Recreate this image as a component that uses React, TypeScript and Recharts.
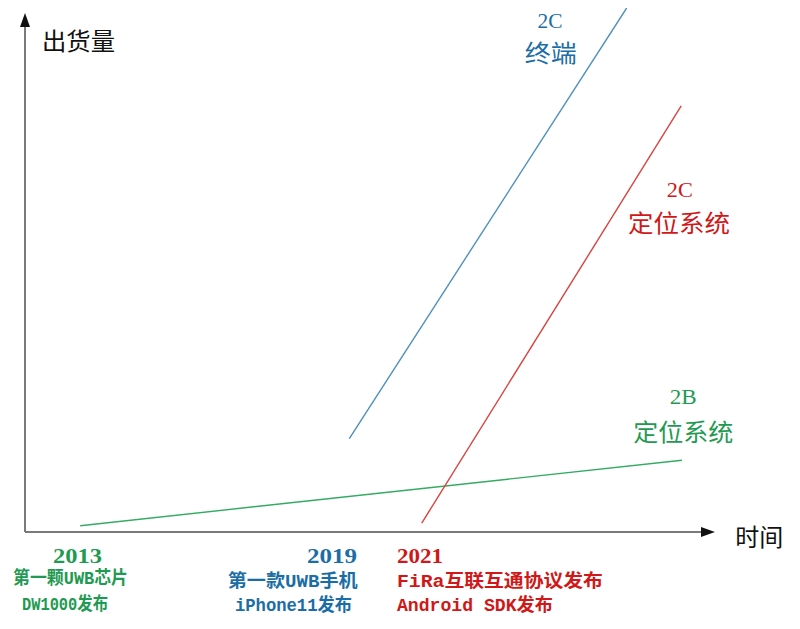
import React from "react";
import { ComposedChart, Line, XAxis, YAxis, ReferenceLine, ReferenceDot } from "recharts";

// ---- data (schematic: time 0..100, shipments 0..100) ----
const green2B = [
  { t: 8.0, v: 1.2 },
  { t: 95.2, v: 13.7 },
];
const blue2C = [
  { t: 47.0, v: 17.8 },
  { t: 87.2, v: 100 },
];
const red2C = [
  { t: 57.5, v: 1.7 },
  { t: 95.1, v: 81.3 },
];

const yAxisTitle = "出货量";
const xAxisTitle = "时间";
const seriesNames = { blue: ["2C", "终端"], red: ["2C", "定位系统"], green: ["2B", "定位系统"] };
const years = ["2013", "2019", "2021"];
const milestoneLine1 = ["第一颗UWB芯片", "第一款UWB手机", "FiRa互联互通协议发布"];
const milestoneLine2 = ["DW1000发布", "iPhone11发布", "Android SDK发布"];

const C = {
  blueText: "#1b6ea5",
  blueLine: "#4f8fbf",
  redText: "#d01818",
  redLine: "#d8433f",
  greenText: "#1f9a52",
  greenLine: "#33ab62",
  axis: "#7a7a7a",
};

const CJK = "'Noto Sans CJK SC', sans-serif";
const MIX = "'Liberation Mono', 'Noto Sans CJK SC', monospace";
const SERIF = "'Liberation Serif', 'Noto Sans CJK SC', serif";

type LabelOpts = {
  text: string;
  color: string;
  size: number;
  len: number;
  anchor?: "start" | "middle" | "end";
  weight?: number | string;
  family?: string;
};

const textShape = (o: LabelOpts) => (p: any) => (
  <text
    x={p.cx}
    y={p.cy}
    fill={o.color}
    fontSize={o.size}
    fontFamily={o.family || CJK}
    fontWeight={o.weight ?? "bold"}
    textAnchor={o.anchor || "middle"}
    textLength={o.len}
    lengthAdjust="spacingAndGlyphs"
  >
    {o.text}
  </text>
);

const arrowUp = (p: any) => (
  <path d={`M${p.cx},${p.cy} L${p.cx - 5},${p.cy + 14} L${p.cx + 5},${p.cy + 14} Z`} fill="#111" />
);
const arrowRight = (p: any) => (
  <path d={`M${p.cx},${p.cy} L${p.cx - 14},${p.cy - 5} L${p.cx - 14},${p.cy + 5} Z`} fill="#111" />
);

const labels: { x: number; y: number; o: LabelOpts }[] = [
  { x: 7.75, y: 92.0, o: { text: yAxisTitle, color: "#111", size: 24, len: 73, weight: "normal" } },
  { x: 106.4, y: -2.7, o: { text: xAxisTitle, color: "#111", size: 24, len: 48, weight: "normal" } },
  { x: 76.1, y: 96.2, o: { text: seriesNames.blue[0], color: C.blueText, size: 22, len: 25, family: SERIF, weight: "normal" } },
  { x: 76.2, y: 89.7, o: { text: seriesNames.blue[1], color: C.blueText, size: 24, len: 52, weight: "normal" } },
  { x: 94.9, y: 63.9, o: { text: seriesNames.red[0], color: C.redText, size: 22, len: 26, family: SERIF, weight: "normal" } },
  { x: 94.8, y: 57.2, o: { text: seriesNames.red[1], color: C.redText, size: 24, len: 102, weight: "normal" } },
  { x: 95.4, y: 24.4, o: { text: seriesNames.green[0], color: C.greenText, size: 22, len: 27, family: SERIF, weight: "normal" } },
  { x: 95.4, y: 17.4, o: { text: seriesNames.green[1], color: C.greenText, size: 24, len: 100, weight: "normal" } },
  // green milestone
  { x: 7.6, y: -5.9, o: { text: years[0], color: C.greenText, size: 20, len: 49, family: SERIF } },
  { x: 6.6, y: -9.9, o: { text: milestoneLine1[0], color: C.greenText, size: 18, len: 115, family: MIX } },
  { x: 5.8, y: -14.9, o: { text: milestoneLine2[0], color: C.greenText, size: 18, len: 86, family: MIX } },
  // blue milestone
  { x: 44.5, y: -5.9, o: { text: years[1], color: C.blueText, size: 20, len: 50, family: SERIF } },
  { x: 38.8, y: -10.5, o: { text: milestoneLine1[1], color: C.blueText, size: 18, len: 130, family: MIX } },
  { x: 38.9, y: -15.1, o: { text: milestoneLine2[1], color: C.blueText, size: 18, len: 117, family: MIX } },
  // red milestone
  { x: 53.9, y: -5.9, o: { text: years[2], color: C.redText, size: 20, len: 46, anchor: "start", family: SERIF } },
  { x: 53.9, y: -10.5, o: { text: milestoneLine1[2], color: C.redText, size: 18, len: 206, anchor: "start", family: MIX } },
  { x: 53.9, y: -15.1, o: { text: milestoneLine2[2], color: C.redText, size: 18, len: 156, anchor: "start", family: MIX } },
];

export default function App() {
  return (
    <div style={{ position: "absolute", left: 0, top: 0, width: 800, height: 629, background: "#fff" }}>
      <ComposedChart width={800} height={629} margin={{ top: 8, left: 25, right: 85, bottom: 97 }}>
        <XAxis type="number" dataKey="t" domain={[0, 100]} hide allowDataOverflow />
        <YAxis type="number" dataKey="v" domain={[0, 100]} hide allowDataOverflow />
        <ReferenceLine
          segment={[{ x: 0, y: 0 }, { x: 0, y: 97 }]}
          stroke={C.axis}
          strokeWidth={2}
          ifOverflow="visible"
        />
        <ReferenceLine
          segment={[{ x: 0, y: 0 }, { x: 98, y: 0 }]}
          stroke={C.axis}
          strokeWidth={2}
          ifOverflow="visible"
        />
        <ReferenceDot x={0} y={99.05} r={1} shape={arrowUp} ifOverflow="visible" />
        <ReferenceDot x={100} y={0} r={1} shape={arrowRight} ifOverflow="visible" />
        <Line data={green2B} dataKey="v" stroke={C.greenLine} strokeWidth={1.4} dot={false} isAnimationActive={false} />
        <Line data={blue2C} dataKey="v" stroke={C.blueLine} strokeWidth={1.4} dot={false} isAnimationActive={false} />
        <Line data={red2C} dataKey="v" stroke={C.redLine} strokeWidth={1.4} dot={false} isAnimationActive={false} />
        {labels.map((l, i) => (
          <ReferenceDot key={i} x={l.x} y={l.y} r={1} shape={textShape(l.o)} ifOverflow="visible" />
        ))}
      </ComposedChart>
    </div>
  );
}
